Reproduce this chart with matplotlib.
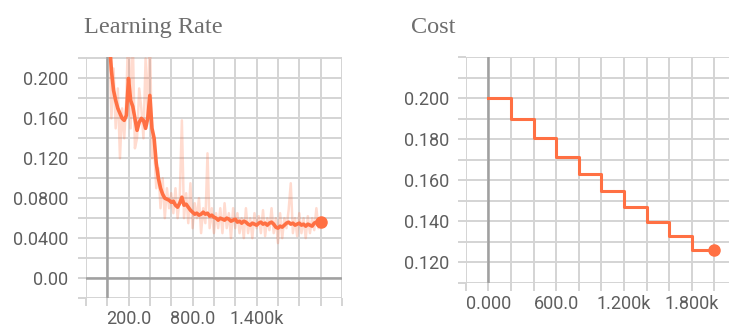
import matplotlib
matplotlib.use("Agg")
import matplotlib.pyplot as plt
import numpy as np
from matplotlib.ticker import FixedLocator, FixedFormatter

# ---------------- data ----------------
lr_steps = list(range(20, 2001, 20))
lr_smooth = [0.240, 0.208, 0.188, 0.178, 0.170, 0.165, 0.160, 0.158, 0.163, 0.200,
             0.178, 0.172, 0.160, 0.148, 0.156, 0.160, 0.158, 0.150, 0.160, 0.183,
             0.150, 0.140, 0.115, 0.100, 0.090, 0.084, 0.080, 0.079, 0.078, 0.076,
             0.077, 0.073, 0.071, 0.075, 0.081, 0.073, 0.074, 0.071, 0.068, 0.066,
             0.064, 0.065, 0.063, 0.064, 0.066, 0.064, 0.065, 0.062, 0.063, 0.061,
             0.060, 0.058, 0.060, 0.059, 0.058, 0.060, 0.059, 0.057, 0.058, 0.059,
             0.056, 0.057, 0.055, 0.057, 0.056, 0.054, 0.053, 0.055, 0.054, 0.053,
             0.055, 0.056, 0.054, 0.055, 0.053, 0.055, 0.056, 0.054, 0.051, 0.050,
             0.052, 0.051, 0.053, 0.055, 0.056, 0.054, 0.055, 0.053, 0.054, 0.055,
             0.053, 0.054, 0.052, 0.054, 0.053, 0.052, 0.055, 0.056, 0.055, 0.056]
lr_raw = [0.250, 0.160, 0.210, 0.150, 0.190, 0.120, 0.170, 0.140, 0.180, 0.260,
          0.150, 0.240, 0.130, 0.140, 0.190, 0.170, 0.140, 0.220, 0.160, 0.250,
          0.120, 0.130, 0.090, 0.110, 0.070, 0.100, 0.060, 0.090, 0.070, 0.085,
          0.065, 0.090, 0.060, 0.080, 0.158, 0.060, 0.085, 0.055, 0.095, 0.050,
          0.075, 0.060, 0.080, 0.045, 0.070, 0.055, 0.125, 0.050, 0.070, 0.045,
          0.065, 0.050, 0.070, 0.045, 0.075, 0.050, 0.065, 0.040, 0.070, 0.050,
          0.065, 0.045, 0.060, 0.040, 0.070, 0.045, 0.060, 0.040, 0.065, 0.050,
          0.062, 0.045, 0.068, 0.042, 0.060, 0.048, 0.070, 0.045, 0.060, 0.035,
          0.065, 0.040, 0.060, 0.050, 0.068, 0.095, 0.045, 0.060, 0.042, 0.065,
          0.045, 0.060, 0.040, 0.062, 0.045, 0.060, 0.048, 0.070, 0.050, 0.058]

cost_steps = [0, 200, 400, 600, 800, 1000, 1200, 1400, 1600, 1800, 2000]
cost_vals = [0.200, 0.190, 0.1805, 0.1715, 0.1629, 0.1548, 0.1470, 0.1397, 0.1327, 0.1260, 0.1260]

lr_xticks = list(range(-200, 2201, 200))
lr_xlabels = ["200.0", "800.0", "1.400k"]
lr_xlabel_pos = [200, 800, 1400]
lr_yticks = [round(-0.02 + 0.02 * i, 2) for i in range(13)]
lr_ylabels = ["0.00", "0.0400", "0.0800", "0.120", "0.160", "0.200"]
lr_ylabel_pos = [0.0, 0.04, 0.08, 0.12, 0.16, 0.20]

cost_xticks = list(range(-200, 2201, 200))
cost_xlabels = ["0.000", "600.0", "1.200k", "1.800k"]
cost_xlabel_pos = [0, 600, 1200, 1800]
cost_yticks = [round(0.11 + 0.01 * i, 2) for i in range(12)]
cost_ylabels = ["0.120", "0.140", "0.160", "0.180", "0.200"]
cost_ylabel_pos = [0.12, 0.14, 0.16, 0.18, 0.20]

# ---------------- style ----------------
ORANGE = "#ff7043"
GRID = "#d4d4d4"
AXIS = "#a0a0a0"
TICKTXT = "#5e5e5e"
TITLE = "#6e6e6e"

fig = plt.figure(figsize=(7.29, 3.3), dpi=100)


def labels_for(ticks, pos, labels):
    out = []
    for t in ticks:
        lab = ""
        for p, l in zip(pos, labels):
            if abs(t - p) < 1e-9:
                lab = l
        out.append(lab)
    return out


def style_axes(ax, xticks, xlabs, yticks, ylabs, ypad):
    for s in ax.spines.values():
        s.set_visible(False)
    ax.xaxis.set_major_locator(FixedLocator(xticks))
    ax.xaxis.set_major_formatter(FixedFormatter(xlabs))
    ax.yaxis.set_major_locator(FixedLocator(yticks))
    ax.yaxis.set_major_formatter(FixedFormatter(ylabs))
    ax.grid(True, color=GRID, linewidth=1.4, zorder=0)
    ax.set_axisbelow(True)
    ax.tick_params(axis="both", direction="out", length=5.5, width=1.4, color=GRID,
                   labelcolor=TICKTXT, labelsize=13)
    ax.tick_params(axis="x", pad=3)
    ax.tick_params(axis="y", pad=ypad)
    for lab in ax.get_xticklabels() + ax.get_yticklabels():
        lab.set_fontfamily("Roboto")


# ---- left: Learning Rate ----
ax1 = fig.add_axes([85.8 / 729, 32 / 330, 256.2 / 729, 241 / 330])
ax1.set_xlim(-200, 2200)
ax1.set_ylim(-0.02, 0.2215)
style_axes(ax1, lr_xticks, labels_for(lr_xticks, lr_xlabel_pos, lr_xlabels),
           lr_yticks, labels_for(lr_yticks, lr_ylabel_pos, lr_ylabels), 7)
ax1.axvline(0, color=AXIS, linewidth=1.8, zorder=1)
ax1.axhline(0, color=AXIS, linewidth=1.8, zorder=1)
ax1.plot(lr_steps, lr_raw, color=ORANGE, alpha=0.25, linewidth=1.8, zorder=2,
         solid_joinstyle="round")
ax1.plot(lr_steps, lr_smooth, color=ORANGE, linewidth=2.6, zorder=3,
         solid_joinstyle="round")
ax1.plot([lr_steps[-1]], [lr_smooth[-1]], "o", color=ORANGE, markersize=8, zorder=4,
         clip_on=False)

# ---- right: Cost ----
ax2 = fig.add_axes([465.7 / 729, 47.3 / 330, 263.3 / 729, 226 / 330])
ax2.set_xlim(-200, 2130)
ax2.set_ylim(0.11, 0.2203)
style_axes(ax2, cost_xticks, labels_for(cost_xticks, cost_xlabel_pos, cost_xlabels),
           cost_yticks, labels_for(cost_yticks, cost_ylabel_pos, cost_ylabels), 6)
ax2.axvline(0, color=AXIS, linewidth=1.8, zorder=1)
ax2.plot(cost_steps, cost_vals, color=ORANGE, linewidth=2.2, drawstyle="steps-post",
         zorder=3, solid_joinstyle="round")
ax2.plot([cost_steps[-1]], [cost_vals[-1]], "o", color=ORANGE, markersize=8, zorder=4,
         clip_on=False)

# ---- titles ----
fig.text(153 / 729, 1 - 33.3 / 330, "Learning Rate", ha="center", va="baseline",
         fontsize=17.5, color=TITLE, fontfamily="Liberation Serif")
fig.text(433.7 / 729, 1 - 33.3 / 330, "Cost", ha="center", va="baseline",
         fontsize=17.5, color=TITLE, fontfamily="Liberation Serif")

fig.savefig("out.png", dpi=100, facecolor="white")
